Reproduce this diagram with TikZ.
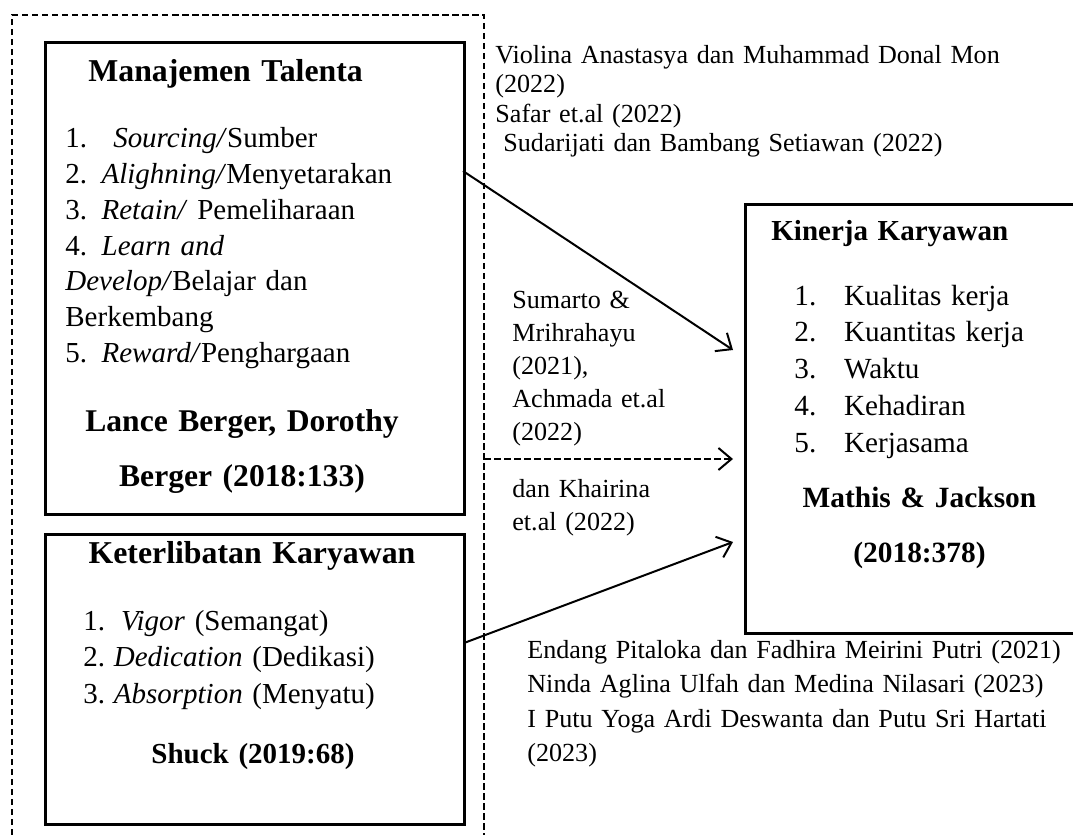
\documentclass[tikz,border=0pt]{standalone}
\usepackage{fontspec}
\setmainfont{Liberation Serif}
\usetikzlibrary{arrows.meta}

\begin{document}
\begin{tikzpicture}[x=0.5pt,y=-0.5pt,
        kotak/.style={draw,line width=1.35pt,anchor=north west,inner sep=0pt},
        panah/.style={line width=1pt,-{Straight Barb[length=6.5pt,width=11pt]}},
        putus/.style={line width=1pt,dash pattern=on 3.25pt off 1.75pt},
        teks/.style={inner sep=0pt,text width=330pt,align=left,anchor=base west},
        tengah/.style={inner sep=0pt,text width=200pt,align=center,anchor=base}]

    \clip (0,0) rectangle (1073,835);

    % dashed frame (open at the bottom)
    \draw[putus] (12,835) -- (12,15) -- (484,15) -- (484,835);

    % boxes
    \node[kotak,minimum width=209.5pt,minimum height=236pt] (talenta) at (44,41) {};
    \node[kotak,minimum width=209.5pt,minimum height=145pt] (libat) at (44,533) {};
    \node[kotak,minimum width=175pt,minimum height=214.5pt] (kinerja) at (744,203) {};

    % Manajemen Talenta
    \node[teks,font=\fontsize{15.9}{19}\bfseries\selectfont] (talJudul) at (88,82) {Manajemen Talenta};
    \node[teks,font=\fontsize{14.5}{17.85}\selectfont] (talIsi) at (65,148)
        {1.\hspace{0.9em}\textit{Sourcing/}Sumber\\
         2.\hspace{0.5em}\textit{Alighning/}Menyetarakan\\
         3.\hspace{0.5em}\textit{Retain/} Pemeliharaan\\
         4.\hspace{0.5em}\textit{Learn and}\\
         \textit{Develop/}Belajar dan\\
         Berkembang\\
         5.\hspace{0.5em}\textit{Reward/}Penghargaan};
    \node[tengah,font=\fontsize{15.8}{27.5}\bfseries\selectfont] (talSumber) at (242,431)
        {Lance Berger, Dorothy\\ Berger (2018:133)};

    % Keterlibatan Karyawan
    \node[tengah,font=\fontsize{15.9}{19}\bfseries\selectfont] (libJudul) at (252,563) {Keterlibatan Karyawan};
    \node[teks,font=\fontsize{14.5}{18.25}\selectfont] (libIsi) at (83,630)
        {1.\hspace{0.55em}\textit{Vigor} (Semangat)\\
         2.\hspace{0.3em}\textit{Dedication} (Dedikasi)\\
         3.\hspace{0.3em}\textit{Absorption} (Menyatu)};
    \node[tengah,font=\fontsize{14.5}{17}\bfseries\selectfont] (libSumber) at (253,763) {Shuck (2019:68)};

    % Kinerja Karyawan
    \node[teks,font=\fontsize{14.5}{17}\bfseries\selectfont] (kinJudul) at (771,240) {Kinerja Karyawan};
    \node[teks,font=\fontsize{14.6}{18.4}\selectfont] (kinIsi) at (794,305)
        {1.\hspace{0.95em}Kualitas kerja\\
         2.\hspace{0.95em}Kuantitas kerja\\
         3.\hspace{0.95em}Waktu\\
         4.\hspace{0.95em}Kehadiran\\
         5.\hspace{0.95em}Kerjasama};
    \node[tengah,font=\fontsize{14.7}{27.5}\bfseries\selectfont] (kinSumber) at (919.5,507)
        {Mathis \& Jackson\\ (2018:378)};

    % references
    \node[teks,font=\fontsize{13.05}{14.8}\selectfont] (ref1) at (495,63)
        {Violina Anastasya dan Muhammad Donal Mon\\
         (2022)\\
         Safar et.al (2022)\\
         \hspace*{4pt}Sudarijati dan Bambang Setiawan (2022)};
    \node[teks,font=\fontsize{13.05}{16.5}\selectfont] (ref2) at (512,308)
        {Sumarto \&\\ Mrihrahayu\\ (2021),\\ Achmada et.al\\ (2022)};
    \node[teks,font=\fontsize{13.05}{16.5}\selectfont] (ref3) at (512,497)
        {dan Khairina\\ et.al (2022)};
    \node[teks,font=\fontsize{13.05}{17.3}\selectfont] (ref4) at (527,658)
        {Endang Pitaloka dan Fadhira Meirini Putri (2021)\\
         Ninda Aglina Ulfah dan Medina Nilasari (2023)\\
         I Putu Yoga Ardi Deswanta dan Putu Sri Hartati\\
         (2023)};

    % arrows
    \coordinate (t1) at (463,171);
    \coordinate (k1) at (733,350);
    \coordinate (b1) at (484,459);
    \coordinate (k2) at (733,459);
    \coordinate (l1) at (464,643);
    \coordinate (k3) at (733,542);
    \draw[panah] (t1) -- (k1);
    \draw[panah,dash pattern=on 3.3pt off 1.7pt] (b1) -- (k2);
    \draw[panah] (l1) -- (k3);
\end{tikzpicture}
\end{document}
